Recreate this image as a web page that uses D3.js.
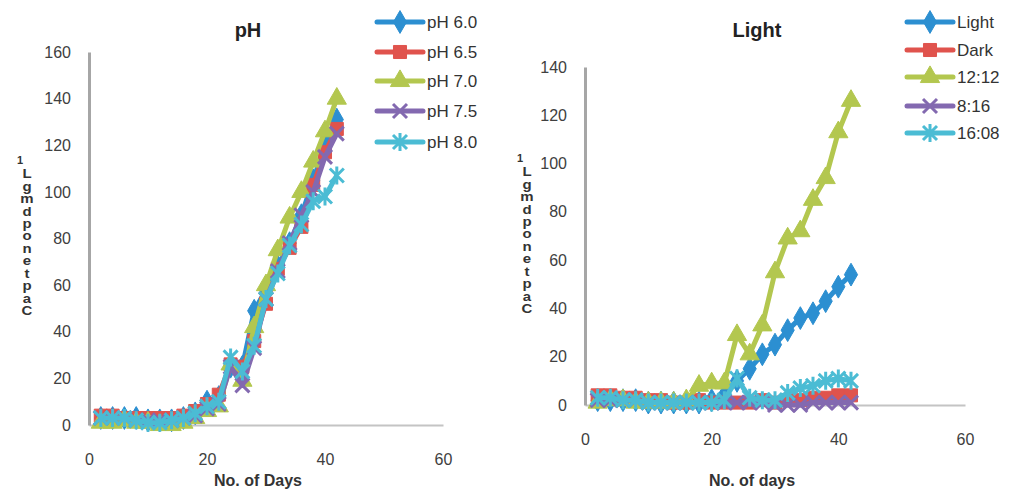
<!DOCTYPE html>
<html>
<head>
<meta charset="utf-8">
<script src="https://cdn.jsdelivr.net/npm/d3@7"></script>
<style>
body { margin: 0; background: #fff; }
text { font-family: "Liberation Sans", Arial, sans-serif; }
</style>
</head>
<body>
<script>
// sampling days (same for both panels)
var days = [2,4,6,8,10,12,14,16,18,20,22,24,26,28,30,32,34,36,38,40,42];

// pH panel
var phNames = ['pH 6.0','pH 6.5','pH 7.0','pH 7.5','pH 8.0'];
var ph60 = [3,3,3,3,2,2,2,3,5,10,12,25,25,49,58,68,78,90,105,120,131];
var ph65 = [4,4,3,3,3,3,3,4,6,9,13,26,25,36,52,67,76,85,103,117,127];
var ph70 = [1,1,2,1,1,0,0,1,3,6,8,26,19,42,60,75,89,100,113,126,140];
var ph75 = [3,3,3,2,2,2,2,3,4,7,9,25,17,33,54,66,78,90,100,115,125];
var ph80 = [3,3,3,2,1,1,2,3,5,8,10,29,23,34,54,65,77,86,96,98,107];

// light panel
var lightNames = ['Light','Dark','12:12','8:16','16:08'];
var light = [2,2,2,2,1,1,1,1,1,2,4,10,15,21,25,31,36,38,43,49,54];
var dark  = [4,4,3,3,2,2,1,1,2,1,1,1,1,2,1,2,2,3,3,4,4];
var l1212 = [1,2,2,1,1,1,1,2,8,9,9,29,21,33,55,69,72,85,94,113,126];
var l816  = [2,2,2,2,1,1,1,1,1,1,1,1,1,1,0,0,0,1,1,1,1];
var l1608 = [3,3,2,2,1,1,1,1,1,1,2,11,3,2,2,5,7,8,10,11,10];

var xTicks = [0,20,40,60];
var yLabel = 'LgmdponetpaC';

var colors = ['#2c8fd1','#e0534d','#b3c74f','#8369b0','#4bbcd4'];
var markers = ['diamond','square','triangle','x','star'];

var svg = d3.select('body').append('svg')
  .attr('width', 1012)
  .attr('height', 493);

function markerPath(type) {
  if (type == 'diamond') return d3.symbol(d3.symbolDiamond, 150)();
  if (type == 'square') return d3.symbol(d3.symbolSquare, 170)();
  if (type == 'triangle') return d3.symbol(d3.symbolTriangle, 160)();
  if (type == 'x') return 'M-7,-7L7,7M-7,7L7,-7';
  return 'M-7,-7L7,7M-7,7L7,-7M0,-9L0,9';
}

function drawMarker(g, type, color, x, y) {
  var filled = (type == 'diamond' || type == 'square' || type == 'triangle');
  g.append('path')
    .attr('d', markerPath(type))
    .attr('transform', 'translate(' + x + ',' + y + ')')
    .attr('fill', filled ? color : 'none')
    .attr('stroke', color)
    .attr('stroke-width', filled ? 1 : 3);
}

function panel(opt) {
  var x = d3.scaleLinear().domain([0, 60]).range([opt.x0, opt.x1]);
  var y = d3.scaleLinear().domain([0, opt.ymax]).range([opt.y0, opt.y1]);
  var g = svg.append('g');

  // axes
  var xa = g.append('g').attr('transform', 'translate(0,' + opt.y0 + ')')
    .call(d3.axisBottom(x).tickValues(xTicks).tickSize(0).tickPadding(29));
  xa.select('.domain').attr('stroke', '#c4c4c4').attr('stroke-width', 2);
  xa.selectAll('text').attr('font-size', 16).attr('fill', '#404040').attr('font-family', 'Liberation Sans');

  var ya = g.append('g').attr('transform', 'translate(' + opt.x0 + ',0)')
    .call(d3.axisLeft(y).ticks(opt.ymax / 20).tickSize(0).tickPadding(18));
  ya.select('.domain').attr('stroke', '#a6a6a6').attr('stroke-width', 3);
  ya.selectAll('text').attr('font-size', 16).attr('fill', '#404040').attr('font-family', 'Liberation Sans');

  // series
  var line = d3.line().x(function(d) { return x(d[0]); }).y(function(d) { return y(d[1]); });
  opt.series.forEach(function(s, i) {
    var pts = days.map(function(d, j) { return [d, s[j]]; });
    var sg = g.append('g');
    sg.append('path').datum(pts)
      .attr('d', line)
      .attr('fill', 'none')
      .attr('stroke', colors[i])
      .attr('stroke-width', 5)
      .attr('stroke-linejoin', 'round');
    pts.forEach(function(p) {
      drawMarker(sg, markers[i], colors[i], x(p[0]), y(p[1]));
    });
  });

  // titles
  g.append('text').attr('x', opt.titleX).attr('y', 37)
    .attr('text-anchor', 'middle').attr('font-size', 20).attr('font-weight', 'bold')
    .attr('fill', '#222').text(opt.title);
  g.append('text').attr('x', opt.xTitleX).attr('y', 486)
    .attr('text-anchor', 'middle').attr('font-size', 16).attr('font-weight', 'bold')
    .attr('fill', '#333').text(opt.xTitle);

  // stacked y label (upright vertical text, squeezed)
  g.append('text').attr('x', opt.labX - 10).attr('y', opt.labTop - 2)
    .attr('font-size', 11).attr('font-weight', 'bold').attr('fill', '#333').text('1');
  g.append('text')
    .attr('transform', 'translate(' + opt.labX + ',' + opt.labTop + ') scale(1,0.9)')
    .attr('fill', '#333').attr('font-weight', 'bold').attr('font-size', 15)
    .style('writing-mode', 'vertical-rl')
    .style('text-orientation', 'upright')
    .style('letter-spacing', '-3px')
    .text(yLabel);

  // legend
  var lg = g.append('g');
  opt.names.forEach(function(n, i) {
    var ly = opt.legY[i];
    lg.append('line').attr('x1', opt.legX).attr('x2', opt.legX + 46)
      .attr('y1', ly).attr('y2', ly)
      .attr('stroke', colors[i]).attr('stroke-width', 5).attr('stroke-linecap', 'round');
    drawMarker(lg, markers[i], colors[i], opt.legX + 23, ly);
    lg.append('text').attr('x', opt.legX + 50).attr('y', ly + 6)
      .attr('font-size', 17).attr('fill', '#333').text(n);
  });
}

panel({
  x0: 89, x1: 443, y0: 425, y1: 52, ymax: 160,
  series: [ph60, ph65, ph70, ph75, ph80], names: phNames,
  title: 'pH', titleX: 248, xTitle: 'No. of Days', xTitleX: 258,
  labX: 27, labTop: 166,
  legX: 377, legY: [22, 52, 81, 111, 142]
});

panel({
  x0: 585, x1: 965, y0: 405, y1: 67, ymax: 140,
  series: [light, dark, l1212, l816, l1608], names: lightNames,
  title: 'Light', titleX: 757, xTitle: 'No. of days', xTitleX: 752,
  labX: 527, labTop: 164,
  legX: 907, legY: [22, 50, 77, 106, 133]
});
</script>
</body>
</html>
